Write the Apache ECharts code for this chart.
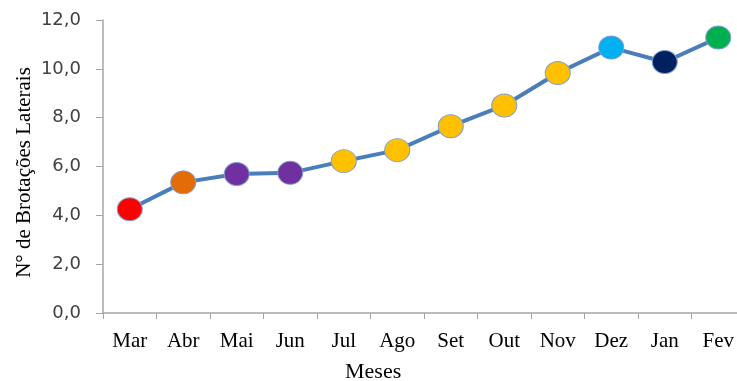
<!DOCTYPE html>
<html><head><meta charset="utf-8">
<script src="https://cdn.jsdelivr.net/npm/echarts@6/dist/echarts.min.js"></script>
<style>html,body{margin:0;padding:0;background:#fff}#c{width:737px;height:381px}</style>
</head><body><div id="c"></div>
<script>
const months = ['Mar','Abr','Mai','Jun','Jul','Ago','Set','Out','Nov','Dez','Jan','Fev'];
const values = [4.25, 5.35, 5.69, 5.74, 6.22, 6.67, 7.65, 8.5, 9.83, 10.87, 10.28, 11.28];
const pointColors = ['#ff0000','#e36c09','#7030a0','#7030a0','#ffc000','#ffc000','#ffc000','#ffc000','#ffc000','#00b0f0','#002060','#00b050'];
const yTicks = [0, 2, 4, 6, 8, 10, 12];

const chart = echarts.init(document.getElementById('c'));
chart.setOption({
  animation: false,
  title: {
    text: 'Meses', left: 340, top: 356,
    textStyle: {fontFamily: 'Liberation Serif', fontSize: 22, fontWeight: 'normal', color: '#000'}
  },
  grid: {left: 103, right: -8, top: 20, bottom: 68, containLabel: false, outerBoundsMode: 'none'},
  xAxis: {
    type: 'category', data: months, boundaryGap: true,
    axisLine: {lineStyle: {color: '#a6a6a6', width: 1.5}},
    axisTick: {show: true, length: 6, lineStyle: {color: '#a6a6a6'}},
    axisLabel: {fontFamily: 'Liberation Serif', fontSize: 21, color: '#000', margin: 18}
  },
  yAxis: {
    type: 'value', min: yTicks[0], max: yTicks[yTicks.length-1], interval: 2,
    name: 'N° de Brotações Laterais', nameLocation: 'middle', nameGap: 68, nameRotate: 90,
    nameMoveOverlap: false,
    nameTextStyle: {fontFamily: 'Liberation Serif', fontSize: 21, color: '#000', padding: [0, 12, 0, 0]},
    axisLine: {show: true, lineStyle: {color: '#a6a6a6', width: 1.5}},
    axisTick: {show: true, length: 7, lineStyle: {color: '#a6a6a6'}},
    splitLine: {show: false},
    axisLabel: {fontFamily: 'DejaVu Sans', fontSize: 18, color: '#404040', margin: 22,
      formatter: v => v.toFixed(1).replace('.', ',')}
  },
  series: [{
    type: 'line',
    data: values.map((v, i) => ({value: v, itemStyle: {color: pointColors[i]}})),
    symbol: 'circle', symbolSize: [25, 23],
    lineStyle: {color: '#4a7ebb', width: 4},
    itemStyle: {borderColor: '#7f9fcf', borderWidth: 1}
  }]
});
</script></body></html>
